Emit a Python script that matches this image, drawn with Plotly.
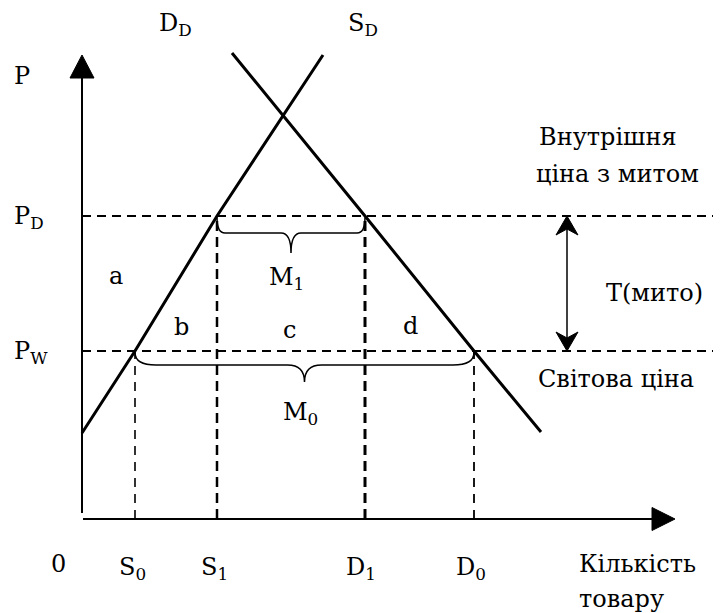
import plotly.graph_objects as go

# ---------------- data (economic units) ----------------
supply_q = [0.0, 5.3, 13.5, 24.1]
supply_p = [8.6, 16.8, 30.3, 46.4]
demand_q = [15.0, 28.3, 39.2, 45.9]
demand_p = [46.6, 30.3, 16.8, 8.7]
P_W = 16.8          # world price
P_D = 30.3          # domestic price with tariff
S0, S1, D1, D0 = 5.3, 13.5, 28.3, 39.2
q_axis_max = 59.3
p_axis_max = 46.4
tariff_q = 48.5

labels = [
    ("P", -7.0, 44.3),
    ("P<sub>D</sub>", -7.0, 30.2),
    ("P<sub>W</sub>", -7.0, 16.7),
    ("a", 2.5, 24.3),
    ("b", 9.0, 19.2),
    ("c", 19.9, 18.9),
    ("d", 31.9, 19.3),
    ("M<sub>1</sub>", 18.5, 24.1),
    ("M<sub>0</sub>", 19.9, 10.6),
    ("Внутрішня", 45.5, 38.2),
    ("ціна з митом", 45.2, 34.5),
    ("T(мито)", 52.2, 22.6),
    ("Світова ціна", 45.4, 14.0),
    ("0", -3.3, -4.5),
    ("S<sub>0</sub>", 3.5, -4.9),
    ("S<sub>1</sub>", 11.7, -4.9),
    ("D<sub>1</sub>", 26.2, -4.9),
    ("D<sub>0</sub>", 37.2, -4.9),
    ("Кількість", 49.5, -4.5),
    ("товару", 49.5, -8.0),
    ("D<sub>D</sub>", 7.5, 49.5),
    ("S<sub>D</sub>", 26.4, 49.5),
]

# page body has an 8px margin: the figure is sized/ranged so that it fills the window
X_RANGE = [-7.4, 63.9]
Y_RANGE = [-9.4, 51.1]
FONT = "DejaVu Serif"

fig = go.Figure()


def line(xs, ys, width, dash="solid"):
    fig.add_trace(go.Scatter(x=xs, y=ys, mode="lines",
                             line=dict(color="black", width=width, dash=dash),
                             hoverinfo="skip"))


def head(tip_x, tip_y, dx, dy, length, half, notch=0.0):
    # polygon arrowhead pointing in (dx, dy)
    bx, by = tip_x - dx * length, tip_y - dy * length
    px, py = -dy, dx
    nx, ny = tip_x - dx * (length - notch), tip_y - dy * (length - notch)
    xs = [tip_x, bx + px * half, nx, bx - px * half, tip_x]
    ys = [tip_y, by + py * half, ny, by - py * half, tip_y]
    fig.add_trace(go.Scatter(x=xs, y=ys, mode="lines", fill="toself",
                             fillcolor="black",
                             line=dict(color="black", width=1),
                             hoverinfo="skip"))


# dashed guide lines
line([0, X_RANGE[1]], [P_D, P_D], 1.8, "9px,6px")
line([0, X_RANGE[1]], [P_W, P_W], 1.8, "9px,6px")
line([S0, S0], [0, P_W], 1.6, "9px,7px")
line([S1, S1], [0, P_D], 2.5, "10px,6px")
line([D1, D1], [0, P_D], 3, "10px,6px")
line([D0, D0], [0, P_W], 1.8, "9px,7px")

# axes
line([0, 0], [0.6, p_axis_max - 1.5], 2)
line([0.1, q_axis_max - 1.5], [0, 0], 2)
head(0, p_axis_max, 0, 1, 2.3, 1.2)
head(q_axis_max, 0, 1, 0, 2.3, 1.15)

# supply and demand
line(supply_q, supply_p, 3)
line(demand_q, demand_p, 3)

# tariff double arrow
line([tariff_q, tariff_q], [P_W + 1.0, P_D - 1.0], 1.5)
head(tariff_q, P_D, 0, 1, 1.9, 1.1, 0.6)
head(tariff_q, P_W, 0, -1, 1.9, 1.1, 0.6)


def brace(x1, x2, y0, yh, yt, r, w):
    xm = (x1 + x2) / 2
    ya = y0 - 0.15
    return (f"M {x1},{ya} Q {x1},{yh} {x1 + r},{yh} "
            f"L {xm - w},{yh} Q {xm},{yh} {xm},{yt} "
            f"Q {xm},{yh} {xm + w},{yh} "
            f"L {x2 - r},{yh} Q {x2},{yh} {x2},{ya}")


shapes = [
    dict(type="path", xref="x", yref="y",
         path=brace(S1, D1, P_D, P_D - 1.7, P_D - 3.7, 0.8, 1.0),
         line=dict(color="black", width=1.5)),
    dict(type="path", xref="x", yref="y",
         path=brace(S0, D0, P_W, P_W - 1.4, P_W - 3.1, 2.1, 1.7),
         line=dict(color="black", width=1.5)),
]

annotations = [
    dict(text=t, x=x, y=y, xref="x", yref="y", showarrow=False,
         xanchor="left", yanchor="middle",
         font=dict(family=FONT, size=24, color="black"))
    for t, x, y in labels
]

fig.update_layout(
    width=713, height=605,
    margin=dict(l=0, r=0, t=0, b=0),
    paper_bgcolor="white", plot_bgcolor="white",
    showlegend=False,
    xaxis=dict(range=X_RANGE, visible=False, fixedrange=True),
    yaxis=dict(range=Y_RANGE, visible=False, fixedrange=True),
    shapes=shapes,
    annotations=annotations,
)

fig.write_html("out.html")
